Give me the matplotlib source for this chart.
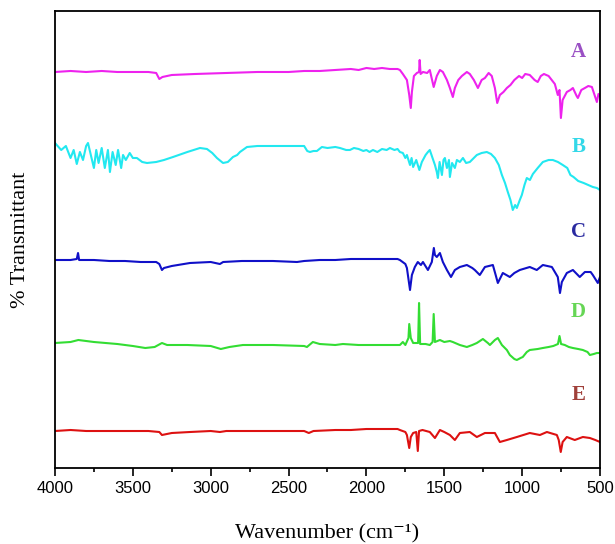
import matplotlib
matplotlib.use("Agg")
import matplotlib.pyplot as plt

# FTIR spectra (y values already include the stacking offset)
wn_A = [4000, 3900, 3800, 3700, 3600, 3500, 3400, 3350, 3330, 3310, 3250, 3100, 2900, 2700, 2500, 2400,
        2300, 2200, 2100, 2050, 2000, 1950, 1900, 1850, 1800, 1785, 1766, 1740, 1725, 1715, 1708, 1695,
        1676, 1662, 1658, 1652, 1637, 1610, 1593, 1568, 1548, 1528, 1509, 1483, 1464, 1445, 1432, 1410,
        1387, 1355, 1336, 1310, 1284, 1260, 1239, 1215, 1195, 1175, 1160, 1143, 1120, 1098, 1075, 1050,
        1020, 1000, 980, 951, 920, 900, 880, 860, 830, 810, 790, 771, 760, 751, 740, 713, 690, 674, 650,
        642, 620, 597, 575, 552, 535, 520, 510, 500]
t_A = [396, 397, 396, 397, 396, 396, 396, 395, 389, 391, 393, 394, 395, 396, 396, 397,
       397, 398, 399, 398, 400, 399, 400, 399, 399, 398, 394, 388, 373, 360, 376, 392,
       395, 396, 408, 394, 396, 395, 398, 381, 392, 398, 396, 388, 380, 371, 380, 388,
       392, 396, 394, 388, 380, 388, 390, 395, 392, 380, 365, 373, 376, 380, 383, 388,
       392, 390, 394, 393, 388, 386, 392, 394, 392, 388, 384, 373, 378, 350, 368, 376, 378, 380, 372,
       370, 378, 380, 382, 381, 373, 366, 374, 372]

wn_B = [4000, 3960, 3930, 3900, 3880, 3860, 3840, 3820, 3800, 3788, 3770, 3750, 3735, 3720, 3700, 3680,
        3660, 3647, 3630, 3610, 3595, 3575, 3563, 3545, 3520, 3500, 3474, 3440, 3409, 3350, 3300, 3242,
        3150, 3069, 3024, 2990, 2960, 2921, 2890, 2857, 2830, 2812, 2767, 2700, 2600, 2500, 2400, 2380,
        2363, 2340, 2318, 2286, 2250, 2200, 2170, 2130, 2106, 2080, 2050, 2020, 2000, 1980, 1958, 1930,
        1900, 1870, 1849, 1820, 1800, 1785, 1766, 1750, 1740, 1720, 1710, 1700, 1680, 1660, 1644, 1620,
        1605, 1593, 1575, 1560, 1548, 1541, 1530, 1515, 1505, 1496, 1483, 1470, 1464, 1450, 1432, 1419,
        1400, 1380, 1360, 1336, 1291, 1260, 1227, 1200, 1175, 1150, 1130, 1110, 1092, 1075, 1060, 1045,
        1034, 1015, 1002, 985, 970, 950, 931, 900, 867, 830, 803, 770, 739, 710, 690, 670, 640, 605,
        575, 546, 520, 500]
t_B = [325, 318, 322, 310, 318, 304, 316, 308, 322, 325, 313, 300, 318, 305, 320, 300,
       318, 296, 316, 303, 318, 300, 313, 308, 315, 310, 310, 306, 305, 306, 308, 311,
       316, 320, 319, 315, 310, 305, 306, 311, 313, 316, 321, 322, 322, 322, 322, 317,
       316, 317, 317, 321, 320, 321, 320, 318, 318, 320, 319, 317, 318, 316, 318, 316,
       319, 318, 320, 318, 319, 316, 315, 310, 313, 303, 310, 301, 308, 298, 306, 313,
       316, 318, 310, 303, 296, 290, 306, 293, 308, 310, 300, 308, 291, 305, 300, 308,
       306, 310, 305, 306, 313, 315, 316, 314, 310, 303, 293, 285, 276, 268, 258, 263,
       260, 268, 273, 283, 290, 288, 294, 300, 306, 308, 308, 306, 303, 300, 293, 291, 287, 285,
       283, 281, 280, 278]

wn_C = [4000, 3900, 3860, 3852, 3845, 3750, 3650, 3550, 3450, 3350, 3330, 3313, 3300, 3250, 3133, 3000,
        2941, 2920, 2800, 2600, 2446, 2400, 2300, 2200, 2100, 2000, 1900, 1800, 1785, 1750, 1740, 1720,
        1708, 1689, 1670, 1650, 1637, 1605, 1580, 1567, 1560, 1548, 1528, 1509, 1483, 1457, 1432, 1400,
        1355, 1320, 1304, 1272, 1239, 1188, 1170, 1156, 1124, 1079, 1050, 1015, 951, 906, 867, 809,
        771, 757, 745, 713, 674, 630, 597, 560, 546, 514, 500]
t_C = [208, 208, 209, 215, 208, 208, 207, 207, 206, 206, 204, 198, 200, 202, 205, 206,
       204, 206, 207, 207, 206, 207, 208, 208, 209, 209, 209, 209, 208, 204, 200, 178,
       193, 201, 206, 203, 206, 198, 206, 220, 213, 211, 215, 206, 198, 191, 198, 201,
       203, 200, 198, 193, 201, 203, 193, 185, 195, 191, 195, 198, 201, 198, 203, 201,
       191, 175, 186, 195, 198, 191, 196, 196, 193, 185, 191]

wn_D = [4000, 3900, 3850, 3750, 3600, 3500, 3420, 3360, 3313, 3280, 3150, 3000, 2935, 2880, 2793, 2600,
        2400, 2382, 2344, 2300, 2200, 2151, 2050, 1950, 1850, 1785, 1766, 1750, 1730, 1725, 1715, 1700,
        1676, 1668, 1662, 1655, 1620, 1593, 1575, 1568, 1560, 1528, 1500, 1464, 1445, 1400, 1355, 1320,
        1291, 1252, 1220, 1207, 1175, 1156, 1130, 1098, 1079, 1050, 1034, 1010, 996, 970, 951, 900,
        867, 830, 800, 770, 760, 750, 726, 700, 674, 640, 610, 580, 565, 540, 520, 500]
t_D = [125, 126, 128, 126, 124, 122, 120, 121, 125, 123, 123, 122, 119, 121, 123, 123,
       122, 121, 126, 124, 123, 124, 123, 123, 123, 123, 126, 123, 130, 144, 130, 125,
       125, 125, 165, 124, 124, 123, 126, 154, 126, 128, 126, 127, 126, 123, 121, 123,
       125, 129, 125, 123, 128, 130, 123, 118, 113, 109, 108, 110, 111, 116, 118, 119,
       120, 121, 122, 124, 132, 124, 123, 121, 120, 119, 118, 116, 113, 114, 115, 115]

wn_E = [4000, 3900, 3800, 3700, 3600, 3500, 3400, 3330, 3313, 3250, 3133, 3000, 2941, 2900, 2700, 2500,
        2400, 2370, 2340, 2200, 2100, 2000, 1900, 1800, 1785, 1750, 1740, 1725, 1715, 1700, 1680, 1670,
        1662, 1640, 1593, 1560, 1528, 1500, 1464, 1432, 1400, 1336, 1291, 1239, 1175, 1143, 1098, 1034,
        951, 886, 841, 777, 765, 752, 740, 713, 662, 610, 565, 530, 500]
t_E = [37, 38, 37, 37, 37, 37, 37, 36, 33, 35, 36, 37, 36, 37, 37, 37,
       37, 35, 37, 38, 38, 39, 39, 39, 38, 36, 33, 20, 31, 35, 36, 17,
       37, 38, 36, 30, 38, 36, 33, 28, 35, 36, 31, 35, 35, 26, 28, 31,
       35, 33, 36, 33, 28, 16, 26, 31, 28, 31, 30, 28, 26]

names = ["A", "B", "C", "D", "E"]
line_colors = ["#ee22ee", "#22e8f0", "#1010c8", "#33dd33", "#dd1111"]
label_colors = ["#9a50c4", "#33d8e8", "#2a2aa0", "#66d655", "#a0403a"]
label_y = [416, 321, 236, 156, 73]

fig = plt.figure(figsize=(6.15, 5.44), dpi=100)
ax = fig.add_axes([0.0894, 0.1397, 0.8862, 0.8401])

series = [(wn_A, t_A), (wn_B, t_B), (wn_C, t_C), (wn_D, t_D), (wn_E, t_E)]
for (x, y), c in zip(series, line_colors):
    ax.plot(x, y, color=c, lw=1.5)

for n, c, yy in zip(names, label_colors, label_y):
    ax.text(640, yy, n, color=c, fontsize=15, fontweight="bold",
            family="Liberation Serif", ha="center", va="center")

ax.set_xlim(4000, 500)
ax.set_ylim(0, 457)
ax.set_xticks([4000, 3500, 3000, 2500, 2000, 1500, 1000, 500])
ax.set_xticks([3750, 3250, 2750, 2250, 1750, 1250, 750], minor=True)
ax.set_yticks([])
ax.tick_params(axis="x", which="major", length=6, width=1.2, direction="out", labelsize=12)
ax.tick_params(axis="x", which="minor", length=3, width=1.2, direction="out")
for lab in ax.get_xticklabels():
    lab.set_family("Liberation Sans")
for s in ax.spines.values():
    s.set_linewidth(1.3)

ax.set_xlabel("Wavenumber (cm\u207b\u00b9)", family=["Liberation Serif", "DejaVu Serif"],
              fontsize=16, labelpad=20)
ax.set_ylabel("% Transmittant", family="Liberation Serif", fontsize=16, labelpad=18)

fig.savefig("out.png", dpi=100)
